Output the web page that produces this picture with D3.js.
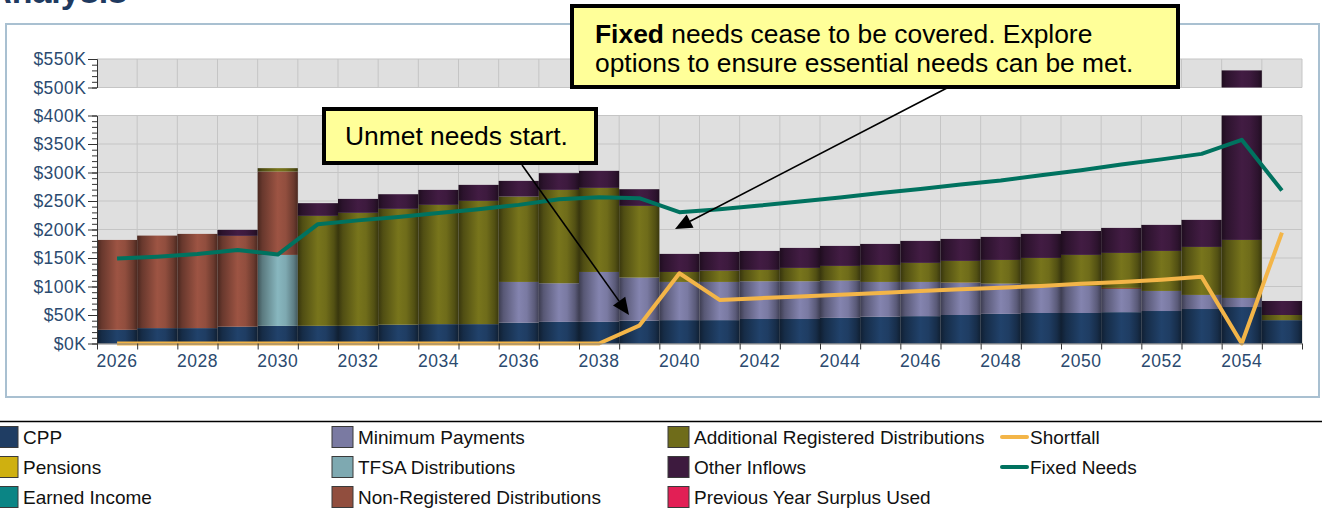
<!DOCTYPE html>
<html>
<head>
<meta charset="utf-8">
<script src="https://cdn.jsdelivr.net/npm/d3@7"></script>
<style>
  html, body { margin: 0; padding: 0; background: #fff; }
  svg { display: block; font-family: "Liberation Sans", Arial, Helvetica, sans-serif; }
</style>
</head>
<body>
<svg id="chart" width="1322" height="509"></svg>
<script>
// ---- Data (values in $K) ----
const years = [2026, 2027, 2028, 2029, 2030, 2031, 2032, 2033, 2034, 2035,
               2036, 2037, 2038, 2039, 2040, 2041, 2042, 2043, 2044, 2045,
               2046, 2047, 2048, 2049, 2050, 2051, 2052, 2053, 2054, 2055];

const cpp                  = [24, 27, 27, 29.5, 31, 31, 31, 33, 34, 34,
                              36.5, 38, 38, 40, 41, 41, 43, 43, 45, 47,
                              48, 50, 52, 53.5, 53.5, 55, 57, 60.5, 64, 41];
const pensions             = [0, 0, 0, 0, 0, 0, 0, 0, 0, 0,
                              0, 0, 0, 0, 0, 0, 0, 0, 0, 0,
                              0, 0, 0, 0, 0, 0, 0, 0, 0, 0];
const earnedIncome         = [0, 0, 0, 0, 0, 0, 0, 0, 0, 0,
                              0, 0, 0, 0, 0, 0, 0, 0, 0, 0,
                              0, 0, 0, 0, 0, 0, 0, 0, 0, 0];
const minimumPayments      = [0, 0, 0, 0, 0, 0, 0, 0, 0, 0,
                              71.5, 67.7, 87.5, 75.6, 67, 67, 66.2, 66.2, 65.3, 61,
                              60, 56.2, 53, 49.8, 47.5, 40.7, 35.2, 24.7, 15.9, 0];
const tfsaDistributions    = [0, 0, 0, 0, 124.4, 0, 0, 0, 0, 0,
                              0, 0, 0, 0, 0, 0, 0, 0, 0, 0,
                              0, 0, 0, 0, 0, 0, 0, 0, 0, 0];
const nonRegistered        = [157.7, 162.3, 165.3, 159.3, 146.3, 0, 0, 0, 0, 0,
                              0, 0, 0, 0, 0, 0, 0, 0, 0, 0,
                              0, 0.8, 0, 0, 0, 1.8, 0, 0, 0, 0];
const additionalRegistered = [0, 0, 0, 0, 5.9, 192.9, 198.2, 203.2, 209.2, 216.2,
                              149.8, 163.8, 147.5, 125.8, 17.5, 19.8, 19.9, 23.4, 25.8, 29.8,
                              33.4, 37.9, 41.6, 46.8, 54.4, 61.4, 70.2, 84.2, 101.8, 9];
const otherInflows         = [0, 0, 0, 10.5, 0, 22.3, 24.5, 25.7, 26.3, 28.1,
                              27.5, 29.4, 29.9, 29.3, 31.7, 32.9, 33.3, 35.1, 35.1, 36.9,
                              38.6, 38.6, 40.4, 42.2, 42.1, 43.9, 45.7, 47.5, 348.3, 24.6];
const prevSurplusUsed      = [0, 0, 0, 0, 0, 0, 0, 0, 0, 0,
                              0, 0, 0, 0, 0, 0, 0, 0, 0, 0,
                              0, 0, 0, 0, 0, 0, 0, 0, 0, 0];

const shortfall  = [0, 0, 0, 0, 0, 0, 0, 0, 0, 0,
                    0, 0, 0, 31.3, 123.2, 76.4, 79.5, 82.5, 85.5, 88.5,
                    92, 95, 98, 101, 105, 108, 112, 117.3, 0, 194.6];
const fixedNeeds = [149, 152.4, 157.2, 164.2, 156, 209.3, 216, 222, 229, 235.6,
                    243.2, 253.2, 256.7, 255, 230.4, 235.6, 242, 249, 256, 264,
                    271, 279, 286, 295, 304, 314, 323, 332.7, 357.3, 268.3];

// axis tick labels
const lowerTicks  = [0, 50, 100, 150, 200, 250, 300, 350, 400];
const upperTicks  = [500, 550];
const labelYears  = [2026, 2028, 2030, 2032, 2034, 2036, 2038, 2040, 2042, 2044, 2046, 2048, 2050, 2052, 2054];

// ---- Series definitions ----
const barSeries = [
  { key: "CPP", values: cpp, color: "#1f3d63" },
  { key: "Pensions", values: pensions, color: "#cfb010" },
  { key: "Earned Income", values: earnedIncome, color: "#0b8585" },
  { key: "Minimum Payments", values: minimumPayments, color: "#7a7aa2" },
  { key: "TFSA Distributions", values: tfsaDistributions, color: "#7ea9b1" },
  { key: "Non-Registered Distributions", values: nonRegistered, color: "#914e3e" },
  { key: "Additional Registered Distributions", values: additionalRegistered, color: "#6f6c1a" },
  { key: "Other Inflows", values: otherInflows, color: "#3d1a3e" },
  { key: "Previous Year Surplus Used", values: prevSurplusUsed, color: "#e21f55" }
];
const lineSeries = [
  { key: "Shortfall", values: shortfall, color: "#f3b548" },
  { key: "Fixed Needs", values: fixedNeeds, color: "#00725f" }
];

const svg = d3.select("#chart");
const defs = svg.append("defs");

// ---- Frame & title ----
svg.append("text")
  .attr("x", 127).attr("y", 3)
  .attr("text-anchor", "end")
  .attr("font-weight", "bold").attr("font-size", 34)
  .attr("fill", "#1f3a60")
  .text("Analysis");

svg.append("rect")
  .attr("x", 6).attr("y", 24).attr("width", 1313).attr("height", 373)
  .attr("fill", "#fff").attr("stroke", "#a9c0d1").attr("stroke-width", 2);

// ---- Scales ----
const plotLeft = 97, plotRight = 1302;
const x = d3.scaleBand().domain(years).range([plotLeft, plotRight]).padding(0);
const xEdge = d3.scaleLinear().domain([0, years.length]).range([plotLeft, plotRight]);
const yLow = d3.scaleLinear().domain([0, 400]).range([343.5, 115.5]).clamp(true);
const yHigh = d3.scaleLinear().domain([500, 550]).range([87.5, 59]).clamp(true);

const panels = [
  { name: "low", y: yLow, ticks: lowerTicks, minor: d3.range(0, 401, 10) },
  { name: "high", y: yHigh, ticks: upperTicks, minor: d3.range(500, 551, 10) }
];

// ---- Cylinder-style shading for each bar colour ----
function shade(c, f) {
  const r = d3.rgb(c);
  return d3.rgb(Math.min(255, r.r * f), Math.min(255, r.g * f), Math.min(255, r.b * f)).formatHex();
}
const shadeStops = [[0, 0.5], [0.12, 0.72], [0.5, 1.08], [0.7, 1.0], [0.9, 0.74], [1, 0.52]];
barSeries.forEach((s, i) => {
  const g = defs.append("linearGradient").attr("id", "grad-" + i)
    .attr("x1", 0).attr("x2", 1).attr("y1", 0).attr("y2", 0);
  shadeStops.forEach(([o, f]) => g.append("stop").attr("offset", o).attr("stop-color", shade(s.color, f)));
});

// ---- Stacked data ----
const table = years.map((yr, i) => {
  const row = { year: yr };
  barSeries.forEach(s => { row[s.key] = s.values[i]; });
  return row;
});
const stacked = d3.stack().keys(barSeries.map(s => s.key))(table);

// ---- Panels: background, grid, bars ----
panels.forEach(p => {
  const [bottom, top] = p.y.range();
  const g = svg.append("g");
  g.append("rect")
    .attr("x", plotLeft).attr("y", top)
    .attr("width", plotRight - plotLeft).attr("height", bottom - top)
    .attr("fill", "#dfdfdf");
  g.selectAll("line.hgrid").data(p.ticks).join("line")
    .attr("x1", plotLeft).attr("x2", plotRight)
    .attr("y1", d => p.y(d)).attr("y2", d => p.y(d))
    .attr("stroke", "#c5c5c5").attr("stroke-width", 1);
  g.selectAll("line.vgrid").data(d3.range(1, years.length + 1)).join("line")
    .attr("x1", d => xEdge(d)).attr("x2", d => xEdge(d))
    .attr("y1", top).attr("y2", bottom)
    .attr("stroke", "#c5c5c5").attr("stroke-width", 1);

  g.selectAll("g.layer").data(stacked).join("g")
    .attr("fill", (d, i) => `url(#grad-${i})`)
    .selectAll("rect").data(d => d.filter(v => v[1] - v[0] > 0)).join("rect")
    .attr("x", v => x(v.data.year))
    .attr("width", x.bandwidth())
    .attr("y", v => p.y(v[1]))
    .attr("height", v => Math.max(0, p.y(v[0]) - p.y(v[1])));
});

// ---- Lines ----
lineSeries.forEach(s => {
  const line = d3.line()
    .x((d, i) => x(years[i]) + x.bandwidth() / 2)
    .y(d => yLow(d));
  svg.append("path")
    .datum(s.values)
    .attr("d", line)
    .attr("fill", "none")
    .attr("stroke", s.color)
    .attr("stroke-width", 4)
    .attr("stroke-linejoin", "round");
});

// ---- Axes ----
const labelColor = "#2b4a6f";
function styleAxis(g, domainColor) {
  g.select(".domain").attr("stroke", domainColor);
  g.selectAll(".tick line").attr("stroke", "#333");
  g.selectAll(".tick text")
    .attr("fill", labelColor)
    .attr("font-size", 17.5)
    .attr("letter-spacing", 0.5)
    .attr("font-family", "'Liberation Sans', Arial, sans-serif");
}
panels.forEach(p => {
  svg.append("g").attr("transform", `translate(${plotLeft},0)`)
    .call(d3.axisLeft(p.y).tickValues(p.minor).tickSize(5).tickSizeOuter(0).tickFormat(""))
    .call(g => styleAxis(g, "#333"));
  svg.append("g").attr("transform", `translate(${plotLeft},0)`)
    .call(d3.axisLeft(p.y).tickValues(p.ticks).tickSize(9).tickSizeOuter(0).tickPadding(1.5)
      .tickFormat(d => "$" + d + "K"))
    .call(g => styleAxis(g, "#333"));
});

svg.append("g").attr("transform", `translate(0,${yLow(0)})`)
  .call(d3.axisBottom(xEdge).tickValues(d3.range(0, years.length + 1)).tickSize(6).tickSizeOuter(0).tickFormat(""))
  .call(g => styleAxis(g, "#808080"));
svg.append("g").attr("transform", `translate(0,${yLow(0)})`)
  .call(d3.axisBottom(x).tickValues(labelYears).tickSize(0).tickPadding(11.5))
  .call(g => { styleAxis(g, "none"); g.select(".domain").remove(); });

// ---- Callout arrows ----
function arrow(x1, y1, x2, y2) {
  const dx = x2 - x1, dy = y2 - y1, len = Math.hypot(dx, dy);
  const ux = dx / len, uy = dy / len, L = 17, w = 7.5;
  const bx = x2 - ux * L, by = y2 - uy * L;
  svg.append("line")
    .attr("x1", x1).attr("y1", y1).attr("x2", bx).attr("y2", by)
    .attr("stroke", "#000").attr("stroke-width", 1.6);
  svg.append("path")
    .attr("d", `M${x2},${y2}L${bx - uy * w},${by + ux * w}L${bx + uy * w},${by - ux * w}Z`)
    .attr("fill", "#000");
}
arrow(522, 165, 629, 315);
arrow(947, 88, 675, 229);

// ---- Callout boxes ----
function box(bx, by, bw, bh) {
  svg.append("rect").attr("x", bx + 2).attr("y", by + 2).attr("width", bw).attr("height", bh)
    .attr("fill", "#9a9a9a");
  svg.append("rect").attr("x", bx).attr("y", by).attr("width", bw).attr("height", bh)
    .attr("fill", "#ffff99").attr("stroke", "#000").attr("stroke-width", 4);
}
const calloutSize = 26.4;
box(324, 109, 272, 54);
svg.append("text").attr("x", 345).attr("y", 145).attr("font-size", calloutSize).attr("fill", "#000")
  .text("Unmet needs start.");

box(572, 6, 606, 81);
const t1 = svg.append("text").attr("x", 595).attr("y", 42.5).attr("font-size", calloutSize).attr("fill", "#000");
t1.append("tspan").attr("font-weight", "bold").text("Fixed");
t1.append("tspan").text(" needs cease to be covered. Explore");
svg.append("text").attr("x", 595).attr("y", 71.5).attr("font-size", calloutSize).attr("fill", "#000")
  .text("options to ensure essential needs can be met.");

// ---- Legend ----
svg.append("line").attr("x1", 0).attr("x2", 1322).attr("y1", 421.5).attr("y2", 421.5)
  .attr("stroke", "#000").attr("stroke-width", 1.5);

const legendCols = [-3, 332, 668];
const rowCenters = [437, 467, 497];
barSeries.forEach((s, i) => {
  const col = Math.floor(i / 3), row = i % 3;
  const sx = legendCols[col], cy = rowCenters[row];
  svg.append("rect").attr("x", sx).attr("y", cy - 10.5).attr("width", 21).attr("height", 21)
    .attr("fill", s.color).attr("stroke", "#3a3a3a").attr("stroke-width", 1);
  svg.append("text").attr("x", sx + 26).attr("y", cy + 7).attr("font-size", 19).attr("fill", "#111")
    .text(s.key);
});
lineSeries.forEach((s, i) => {
  const cy = rowCenters[i];
  svg.append("line").attr("x1", 1002).attr("x2", 1027).attr("y1", cy).attr("y2", cy)
    .attr("stroke", s.color).attr("stroke-width", 4).attr("stroke-linecap", "round");
  svg.append("text").attr("x", 1030).attr("y", cy + 7).attr("font-size", 19).attr("fill", "#111")
    .text(s.key);
});
</script>
</body>
</html>
